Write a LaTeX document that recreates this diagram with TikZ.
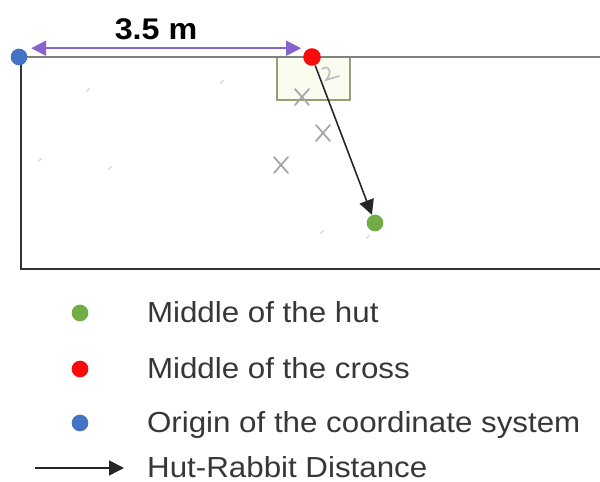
\documentclass[tikz,border=0pt]{standalone}
\usepackage{fontspec}
\setmainfont{Liberation Sans}[FakeStretch=1.08]
\usetikzlibrary{arrows.meta,positioning}

\definecolor{origblue}{RGB}{68,114,196}
\definecolor{crossred}{RGB}{250,10,10}
\definecolor{hutgreen}{RGB}{112,173,71}
\definecolor{dimpurple}{RGB}{135,100,205}
\definecolor{hutolive}{RGB}{150,160,120}
\definecolor{hutfill}{RGB}{251,252,240}
\definecolor{keygray}{RGB}{55,55,55}

\tikzset{
	dot/.style={circle, inner sep=0pt, minimum size=9.5pt},
	frame/.style={line width=1.6pt, black!80},
	topline/.style={line width=1.1pt, black!50},
	pencil/.style={line width=1pt, black!35, line cap=round},
	dimline/.style={line width=1pt, dimpurple, {Triangle[length=8.5pt,width=8.5pt]}-{Triangle[length=8.5pt,width=8.5pt]}},
	hutarrow/.style={line width=0.9pt, black!85, -{Triangle[length=8.5pt,width=8.5pt]}},
	keytext/.style={inner sep=0pt, yshift=-2pt, text height=0.716em, text depth=0pt, text=keygray, font=\fontsize{16.5}{19}\selectfont}
}

\begin{document}
\begin{tikzpicture}[x=0.02cm, y=-0.02cm]
	\useasboundingbox (0,0) rectangle (600,482);

	% field
	\draw[line width=1pt, hutolive, fill=hutfill] (277,57) rectangle (350,100);
	\draw[topline] (19,57) -- (600,57);
	\draw[frame] (21,57) -- (21,269) -- (600,269);

	% pencil marks
	\foreach \cx/\cy in {302/97, 323/133, 281/165} {
		\draw[pencil] (\cx-7,\cy-8) -- (\cx+7,\cy+8);
		\draw[pencil] (\cx+7,\cy-8) -- (\cx-7,\cy+8);
	}
	\draw[pencil, black!25] (322,69) .. controls (329,64) and (333,72) .. (326,80) -- (339,76);
	\foreach \sx/\sy in {88/90, 222/82, 40/160, 110/168, 322/232, 368/237} {
		\draw[line width=0.8pt, black!15] (\sx-1.5,\sy+1.5) -- (\sx+1.5,\sy-1.5);
	}

	% points
	\node[dot, fill=origblue] (origin) at (19,57) {};
	\node[dot, fill=crossred, minimum size=10pt] (cross) at (312,57) {};
	\node[dot, fill=hutgreen] (hut) at (375,223) {};

	\draw[dimline] ([xshift=2pt,yshift=5pt]origin.east) -- ([xshift=-1pt,yshift=5pt]cross.west);
	\node[font=\fontsize{17}{20}\selectfont\bfseries] (dist) at (156,29) {3.5 m};
	\draw[hutarrow] (cross) -- (hut);

	% legend
	\node[dot, fill=hutgreen] (keyhut) at (80,313) {};
	\node[dot, fill=crossred] (keycross) at (80,369) {};
	\node[dot, fill=origblue] (keyorigin) at (80,423) {};
	\coordinate (keytail) at (35,468);
	\coordinate (keyhead) at (124,468);
	\draw[hutarrow] (keytail) -- (keyhead);

	\node[keytext, right=33pt of keyhut] (txthut) {Middle of the hut};
	\node[keytext, right=33pt of keycross] (txtcross) {Middle of the cross};
	\node[keytext, right=33pt of keyorigin] (txtorigin) {Origin of the coordinate system};
	\node[keytext, right=13pt of keyhead] (txtdist) {Hut-Rabbit Distance};
\end{tikzpicture}
\end{document}
